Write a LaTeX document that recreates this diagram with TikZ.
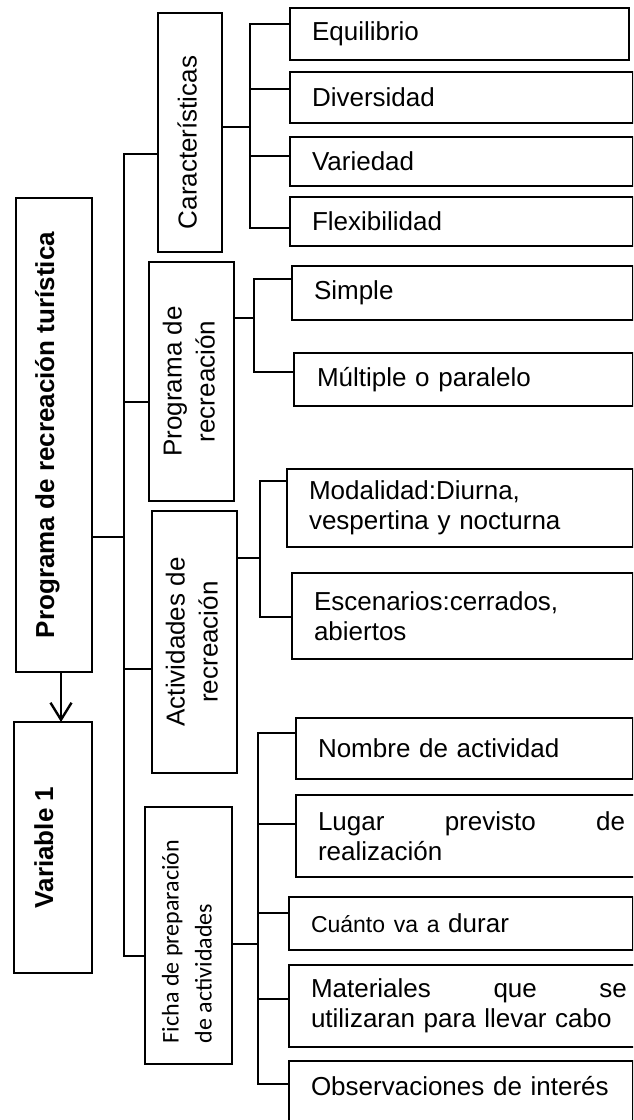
\documentclass[tikz,border=0pt]{standalone}
\usepackage{fontspec}
\setmainfont{Liberation Sans}
\newfontfamily\calib{Carlito}
\usepackage{graphicx}
\usetikzlibrary{arrows.meta}
\newcommand{\fsz}{\fontsize{26}{30}\selectfont}
\newcommand{\rfsz}{\fontsize{26}{33}\selectfont}
\begin{document}
\begin{tikzpicture}[x=1pt,y=-1pt,
  ln/.style={line width=2.4pt},
  lbox/.style={draw, line width=2.4pt, anchor=north west, inner sep=0pt, outer sep=0pt},
  rbox/.style={draw, line width=2.4pt, anchor=north west, inner xsep=22pt, inner ysep=0pt, outer sep=0pt, align=left, font=\fsz},
  arr/.style={line width=2.4pt, -{Straight Barb[length=17pt,width=21pt]}}]
\path[use as bounding box, clip] (0,0) rectangle (633,1120);

% left column
\node[lbox, minimum width=76pt, minimum height=474pt] (title) at (16,198)
  {\rotatebox{90}{\smash{\fsz\bfseries Programa de recreación turística}}};
\node[lbox, minimum width=78pt, minimum height=251pt] (var) at (14,722)
  {\rotatebox{90}{\smash{\fsz\bfseries Variable 1}}};

% second column
\node[lbox, minimum width=64pt, minimum height=239pt] (cara) at (158,13)
  {\rotatebox{90}{\rfsz\begin{tabular}{@{}c@{}}Características\hspace*{20pt}\end{tabular}}};
\node[lbox, minimum width=85pt, minimum height=239pt] (prog) at (149,262)
  {\rotatebox{90}{\rfsz\begin{tabular}{@{}c@{}}Programa de\\recreación\end{tabular}}};
\node[lbox, minimum width=85pt, minimum height=262pt] (activ) at (152,511)
  {\rotatebox{90}{\rfsz\begin{tabular}{@{}c@{}}Actividades de\\recreación\end{tabular}}};
\node[lbox, minimum width=87pt, minimum height=257pt] (ficha) at (145,807)
  {\rotatebox{90}{\calib\fontsize{24}{33}\selectfont\begin{tabular}{@{}l@{}}Ficha de preparación\hspace*{12pt}\\de actividades\end{tabular}}};

% right column
\node[rbox, minimum width=339pt, minimum height=52pt, text width=295pt] (eq) at (290,8) {Equilibrio};
\node[rbox, minimum width=343pt, minimum height=51pt, text width=299pt] (dv) at (290,72) {Diversidad};
\node[rbox, minimum width=343pt, minimum height=49pt, text width=299pt] (vr) at (290,137) {Variedad};
\node[rbox, minimum width=343pt, minimum height=49pt, text width=299pt] (fx) at (290,197) {Flexibilidad};
\node[rbox, minimum width=341pt, minimum height=54pt, text width=297pt] (si) at (292,266) {Simple};
\node[rbox, minimum width=339pt, minimum height=53pt, text width=295pt] (mu) at (294,353) {\hspace*{1pt}Múltiple o paralelo};
\node[rbox, minimum width=346pt, minimum height=78pt, text width=302pt] (mo) at (287,469) {Modalidad:Diurna,\\vespertina y nocturna};
\node[rbox, minimum width=341pt, minimum height=86pt, text width=297pt] (es) at (292,573) {Escenarios:cerrados,\\abiertos};
\node[rbox, minimum width=337pt, minimum height=61pt, text width=293pt] (no) at (296,718) {Nombre de actividad};
\node[rbox, minimum width=351pt, minimum height=82pt, text width=307pt] (lu) at (296,795) {Lugar\hfill previsto\hfill de\\realización};
\node[rbox, minimum width=344pt, minimum height=53pt, text width=300pt] (cu) at (289,897) {{\fontsize{23}{28}\selectfont Cuánto va a} durar};
\node[rbox, minimum width=360pt, minimum height=82pt, text width=316pt] (ma) at (289,965) {Materiales\hfill que\hfill se\\utilizaran para llevar cabo};
\node[rbox, minimum width=344pt, minimum height=90pt, text width=300pt, text height=20pt, text depth=42pt] (ob) at (289,1061) {Observaciones de interés};

% arrow
\coordinate (ax) at (61,0);
\draw[arr] (title.south -| ax) -- (var.north -| ax);

% main bus
\coordinate (mT) at (124,154);
\coordinate (mB) at (124,956);
\coordinate (mJ) at (124,537);
\coordinate (mP) at (124,402);
\coordinate (mA) at (124,669);
\draw[ln] (cara.west |- mT) -- (mT) -- (mB) -- (ficha.west |- mB);
\draw[ln] (title.east |- mJ) -- (mJ);
\draw[ln] (mP) -- (prog.west |- mP);
\draw[ln] (mA) -- (activ.west |- mA);

% caracteristicas group
\coordinate (cT) at (250,24);
\coordinate (cB) at (250,228);
\coordinate (c2) at (250,89);
\coordinate (c3) at (250,156);
\coordinate (cJ) at (250,127);
\draw[ln] (eq.west |- cT) -- (cT) -- (cB) -- (fx.west |- cB);
\draw[ln] (c2) -- (dv.west |- c2);
\draw[ln] (c3) -- (vr.west |- c3);
\draw[ln] (cara.east |- cJ) -- (cJ);

% programa group
\coordinate (pT) at (254,279);
\coordinate (pB) at (254,372);
\coordinate (pJ) at (254,318);
\draw[ln] (si.west |- pT) -- (pT) -- (pB) -- (mu.west |- pB);
\draw[ln] (prog.east |- pJ) -- (pJ);

% actividades group
\coordinate (aT) at (260,481);
\coordinate (aB) at (260,617);
\coordinate (aJ) at (260,558);
\draw[ln] (mo.west |- aT) -- (aT) -- (aB) -- (es.west |- aB);
\draw[ln] (activ.east |- aJ) -- (aJ);

% ficha group
\coordinate (fT) at (258,733);
\coordinate (fB) at (258,1084);
\coordinate (f2) at (258,824);
\coordinate (f3) at (258,913);
\coordinate (f4) at (258,999);
\coordinate (fJ) at (258,944);
\draw[ln] (no.west |- fT) -- (fT) -- (fB) -- (ob.west |- fB);
\draw[ln] (f2) -- (lu.west |- f2);
\draw[ln] (f3) -- (cu.west |- f3);
\draw[ln] (f4) -- (ma.west |- f4);
\draw[ln] (ficha.east |- fJ) -- (fJ);
\end{tikzpicture}
\end{document}
